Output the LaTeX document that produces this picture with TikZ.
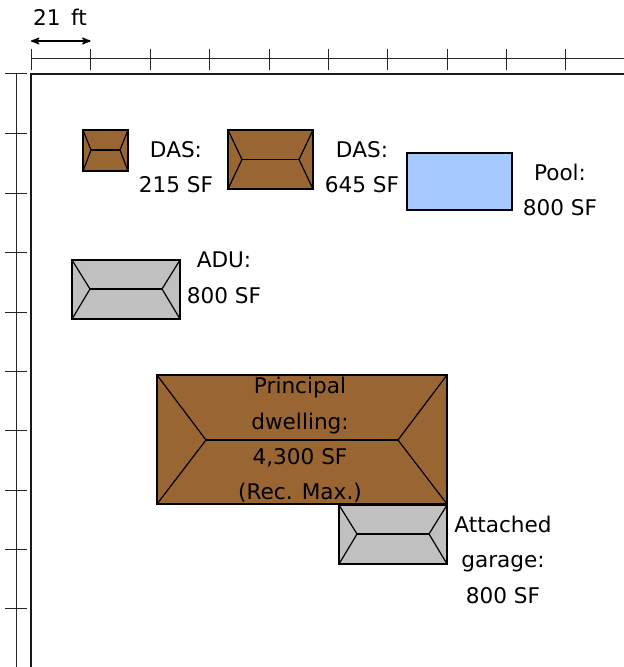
\documentclass[tikz,border=0pt]{standalone}
\usepackage{fontspec}
\setmainfont{DejaVu Sans}
\usetikzlibrary{arrows,calc}
\definecolor{roofbrown}{HTML}{996633}
\definecolor{roofgrey}{HTML}{C0C0C0}
\definecolor{poolblue}{HTML}{A6CAFF}

\begin{document}
\begin{tikzpicture}[x=0.75pt,y=-0.75pt,>=stealth',
  roof/.style={rectangle,draw=black,line width=0.9pt,inner sep=0pt,outer sep=0pt},
  area label/.style={align=center,inner sep=0pt,font=\fontsize{16.2}{26.6}\selectfont},
  hip line/.style={black,line width=0.9pt},
  ruler line/.style={black!85,line width=0.75pt},
  lot line/.style={black!90,line width=1.1pt}]

\useasboundingbox (0,0) rectangle (624,667);

% scale along the top and the left
\coordinate (top start) at (31,59);
\coordinate (top end) at (624,59);
\coordinate (left start) at (16.5,74);
\coordinate (left end) at (16.5,667);
\draw[ruler line] (top start) -- (top end);
\draw[ruler line] (left start) -- (left end);
\foreach \x in {31,90.5,150,209.5,269,328,387.5,447,506.5,565.5}
  \draw[ruler line] (\x,49) -- (\x,70);
\foreach \y in {74,133,193,252,312,371,430,490,549,608}
  \draw[ruler line] (5,\y) -- (27,\y);

% lot edge
\coordinate (lot corner) at (31,74);
\coordinate (lot right) at (624,74);
\coordinate (lot bottom) at (31,667);
\draw[lot line] (lot right) -- (lot corner) -- (lot bottom);

% dimension
\coordinate (dim a) at (31,41);
\coordinate (dim b) at (90.5,41);
\draw[<->,line width=1.2pt] (dim a) -- (dim b);
\node[area label] (dim label) at (60,17) {21\, ft};

% buildings
\node[roof,fill=roofbrown,minimum width=33.75pt,minimum height=30.75pt] (dassmall) at (105.5,150.5) {};
\node[roof,fill=roofbrown,minimum width=63.75pt,minimum height=44.25pt] (daslarge) at (270.5,159.5) {};
\node[roof,fill=poolblue,minimum width=78.75pt,minimum height=42.75pt] (pool) at (459.5,181.5) {};
\node[roof,fill=roofgrey,minimum width=81pt,minimum height=44.25pt] (adu) at (126,289.5) {};
\node[roof,fill=roofbrown,minimum width=217.5pt,minimum height=96.75pt] (principal) at (302,439.5) {};
\node[roof,fill=roofgrey,minimum width=81pt,minimum height=44.25pt] (garage) at (393,534.5) {};

% ridge ends
\coordinate (dassmall l) at (91,150);
\coordinate (dassmall r) at (120,150);
\coordinate (daslarge l) at (242,159.5);
\coordinate (daslarge r) at (299,159.5);
\coordinate (adu l) at (90,289);
\coordinate (adu r) at (162,289);
\coordinate (principal l) at (206,440);
\coordinate (principal r) at (398,440);
\coordinate (garage l) at (357,534);
\coordinate (garage r) at (429,534);

\foreach \r in {dassmall,daslarge,adu,principal,garage}
  \path[hip line]
  (\r.north west) edge (\r\space l)
  (\r.south west) edge (\r\space l)
  (\r\space l) edge (\r\space r)
  (\r\space r) edge (\r.north east)
  (\r\space r) edge (\r.south east);

% labels
\node[area label] (dassmall label) at (176,167) {DAS:\\215 SF};
\node[area label] (daslarge label) at (362,167) {DAS:\\645 SF};
\node[area label] (pool label) at (560,190) {Pool:\\800 SF};
\node[area label] (adu label) at (224,278) {ADU:\\800 SF};
\node[area label] (principal label) at (300,440) {Principal\\dwelling:\\4,300 SF\\(Rec. Max.)};
\node[area label] (garage label) at (503,559.5) {Attached\\garage:\\800 SF};

\end{tikzpicture}
\end{document}
